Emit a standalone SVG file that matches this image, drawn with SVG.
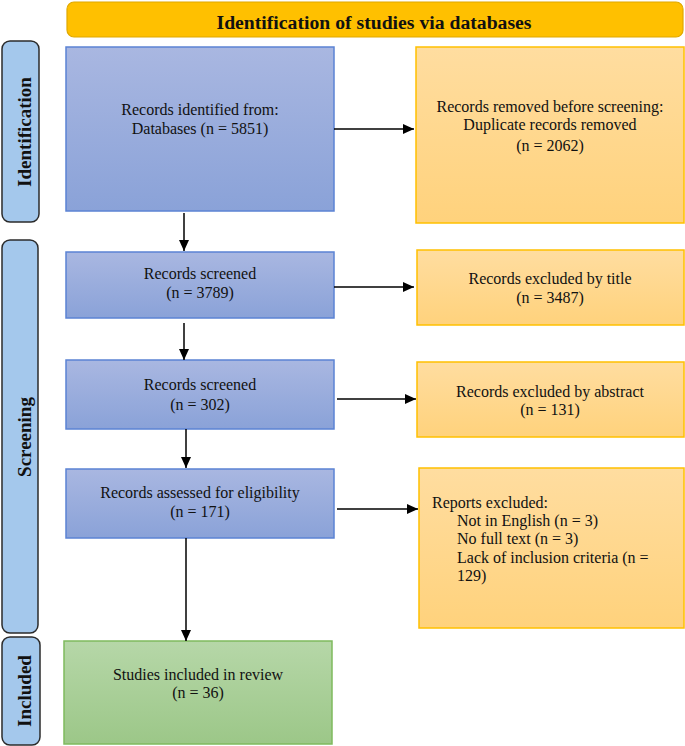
<svg xmlns="http://www.w3.org/2000/svg" width="685" height="746" viewBox="0 0 685 746">
<defs>
<linearGradient id="gBlue" x1="0" y1="0" x2="0" y2="1"><stop offset="0" stop-color="#A9B7E1"/><stop offset="1" stop-color="#8AA2D8"/></linearGradient>
<linearGradient id="gOrange" x1="0" y1="0" x2="0" y2="1"><stop offset="0" stop-color="#FFDDA0"/><stop offset="1" stop-color="#FFD27C"/></linearGradient>
<linearGradient id="gGreen" x1="0" y1="0" x2="0" y2="1"><stop offset="0" stop-color="#B6D7A8"/><stop offset="1" stop-color="#9CC788"/></linearGradient>
<marker id="arr" markerUnits="userSpaceOnUse" markerWidth="12" markerHeight="12" viewBox="0 0 12 12" refX="11" refY="6" orient="auto"><path d="M0,1 L11,6 L0,11 Z" fill="#000"/></marker>
</defs>
<style>
text{font-family:"Liberation Serif","Times New Roman",serif;fill:#111;}
.t{font-size:16px;text-anchor:middle;}
.l{font-size:16px;}
.b{font-weight:bold;font-size:19px;text-anchor:middle;}
.tt{font-weight:bold;font-size:19.7px;text-anchor:middle;}
.blue{fill:url(#gBlue);stroke:#5B83D4;stroke-width:1.5;}
.orange{fill:url(#gOrange);stroke:#FFC000;stroke-width:1.5;}
.green{fill:url(#gGreen);stroke:#7FBA5E;stroke-width:1.5;}
.side{fill:#A4C8EC;stroke:#2B2B2B;stroke-width:1.5;}
.c{stroke:#000;stroke-width:1.5;fill:none;marker-end:url(#arr);}
</style>
<g id="title"><rect x="67" y="2" width="616" height="35" rx="7" fill="#FFC000" stroke="#E0A800" stroke-width="1.2"/><text class="tt" x="374" y="29">Identification of studies via databases</text></g>
<g id="side-identification"><rect class="side" x="2" y="41" width="37" height="181" rx="8"/><text class="b" transform="translate(31,132) rotate(-90)">Identification</text></g>
<g id="side-screening"><rect class="side" x="2" y="240" width="36" height="393" rx="8"/><text class="b" transform="translate(31,437) rotate(-90)">Screening</text></g>
<g id="side-included"><rect class="side" x="2" y="637" width="38" height="108" rx="8"/><text class="b" transform="translate(31,691) rotate(-90)">Included</text></g>
<g id="n1"><rect class="blue" x="66" y="47" width="268" height="164"/><text class="t" x="200" y="115">Records identified from:</text><text class="t" x="200" y="134">Databases (n = 5851)</text></g>
<g id="r1"><rect class="orange" x="416" y="47" width="268" height="176"/><text class="t" x="550" y="112">Records removed before screening:</text><text class="t" x="550" y="130">Duplicate records removed</text><text class="t" x="550" y="151">(n = 2062)</text></g>
<g id="n2"><rect class="blue" x="66" y="252" width="268" height="66"/><text class="t" x="200" y="279">Records screened</text><text class="t" x="200" y="298">(n = 3789)</text></g>
<g id="r2"><rect class="orange" x="417" y="250" width="267" height="75"/><text class="t" x="550" y="284">Records excluded by title</text><text class="t" x="550" y="303">(n = 3487)</text></g>
<g id="n3"><rect class="blue" x="66" y="360" width="268" height="69"/><text class="t" x="200" y="390">Records screened</text><text class="t" x="200" y="410">(n = 302)</text></g>
<g id="r3"><rect class="orange" x="417" y="362" width="267" height="75"/><text class="t" x="550" y="397">Records excluded by abstract</text><text class="t" x="550" y="415">(n = 131)</text></g>
<g id="n4"><rect class="blue" x="66" y="469" width="268" height="69"/><text class="t" x="200" y="498">Records assessed for eligibility</text><text class="t" x="200" y="517">(n = 171)</text></g>
<g id="r4"><rect class="orange" x="419" y="468" width="265" height="160"/><text class="l" x="432" y="508">Reports excluded:</text><text class="l" x="457" y="526">Not in English (n = 3)</text><text class="l" x="457" y="544">No full text (n = 3)</text><text class="l" x="457" y="563">Lack of inclusion criteria (n =</text><text class="l" x="457" y="581">129)</text></g>
<g id="n5"><rect class="green" x="64" y="641" width="268" height="103"/><text class="t" x="198" y="680">Studies included in review</text><text class="t" x="198" y="698">(n = 36)</text></g>
<g id="connectors">
<path class="c" d="M184,213 V251"/>
<path class="c" d="M184,323 V360"/>
<path class="c" d="M186,429 V468"/>
<path class="c" d="M186,538 V641"/>
<path class="c" d="M334,129 H414"/>
<path class="c" d="M334,287 H414"/>
<path class="c" d="M337,399 H416"/>
<path class="c" d="M337,509 H418"/>
</g>
</svg>
